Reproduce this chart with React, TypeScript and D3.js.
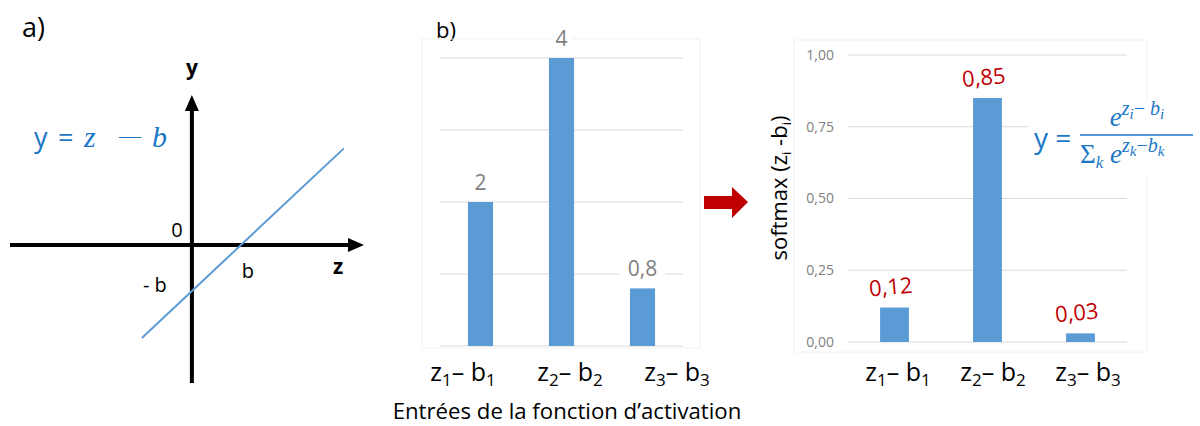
import * as d3 from 'd3';

// panel a: y = z - b
const bias = 1;
const lineZ = [-1.02, 3.1];

// panel b: inputs of the activation function
const inputCats = ['1', '2', '3'];
const inputValues = [2, 4, 0.8];
const inputTicks = [0, 1, 2, 3, 4];

// panel c: softmax outputs
const softmaxValues = [0.12, 0.85, 0.03];
const softmaxTicks = [0, 0.25, 0.5, 0.75, 1];

const SANS = '"Open Sans", Lato, sans-serif';
const MATH = '"Liberation Serif", "DejaVu Serif", serif';
const BAR = '#5b9bd5';
const GRID = '#d9d9d9';
const BLUE = '#1b78c6';
const RED = '#c00000';

const commaFmt = (f: string) => (v: number) => d3.format(f)(v).replace('.', ',');

const CatLabel = ({ x, y, i }: { x: number; y: number; i: string }) => (
  <text x={x} y={y} textAnchor="middle" fontFamily={SANS} fontSize={25} fill="#000">
    z<tspan fontSize={17} dy={5}>{i}</tspan>
    <tspan dy={-5}>{'\u2013 b'}</tspan>
    <tspan fontSize={17} dy={5}>{i}</tspan>
  </text>
);

export default function App() {
  // ---- panel a
  const zx = d3.scaleLinear().domain([-3.71, 3.51]).range([10, 364]);
  const ay = d3.scaleLinear().domain([-3.0, 3.26]).range([383, 95]);
  const ox = zx(0);
  const oy = ay(0);
  const line = d3
    .line<number>()
    .x(z => zx(z))
    .y(z => ay(z - bias));

  // ---- panel b
  const bx = d3.scaleBand<string>().domain(inputCats).range([440, 683]).paddingInner(0.69).paddingOuter(0.345);
  const by = d3.scaleLinear().domain([0, 4]).range([346, 58]);
  const bLab = d3.scalePoint<string>().domain(inputCats).range([463, 677]);

  // ---- panel c
  const cx = d3.scaleBand<string>().domain(inputCats).range([848, 1127]).paddingInner(0.69).paddingOuter(0.345);
  const cy = d3.scaleLinear().domain([0, 1]).range([342, 55]);
  const cLab = d3.scalePoint<string>().domain(inputCats).range([898, 1088]);
  const fmtTick = commaFmt('.2f');
  const fmtB = (v: number) => commaFmt('~g')(v);

  return (
    <div style={{ position: 'absolute', left: 0, top: 0 }}>
      <svg width={1200} height={426} style={{ display: 'block', background: '#fff' }}>
        {/* ===== panel a ===== */}
        <text x={22} y={37} fontFamily={SANS} fontSize={27} fill="#000">a)</text>
        <line x1={zx.range()[0]} x2={zx.range()[1] - 10} y1={oy} y2={oy} stroke="#000" strokeWidth={4} />
        <path d={`M${zx.range()[1]},${oy} l-16,-7 v14 z`} fill="#000" />
        <line x1={ox} x2={ox} y1={ay.range()[0]} y2={ay.range()[1] + 10} stroke="#000" strokeWidth={4} />
        <path d={`M${ox},${ay.range()[1]} l-7,16 h14 z`} fill="#000" />
        <path d={line(lineZ) ?? ''} fill="none" stroke={BAR} strokeWidth={2} />
        <text x={ox} y={75} textAnchor="middle" fontFamily={SANS} fontWeight="bold" fontSize={21}>y</text>
        <text x={338} y={274} textAnchor="middle" fontFamily={SANS} fontWeight="bold" fontSize={21}>z</text>
        <text x={ox - 15} y={oy - 8} textAnchor="middle" fontFamily={SANS} fontSize={20}>0</text>
        <text x={zx(bias) + 7} y={oy + 33} textAnchor="middle" fontFamily={SANS} fontSize={20}>b</text>
        <text x={ox - 37} y={ay(-bias) + 1} textAnchor="middle" fontFamily={SANS} fontSize={20}>- b</text>
        <text y={147} fill={BLUE} fontSize={28}>
          <tspan x={34} fontFamily={SANS} fontSize={27}>y</tspan>
          <tspan x={58} fontFamily={SANS} fontSize={27}>=</tspan>
          <tspan x={84} fontFamily={MATH} fontStyle="italic" fontSize={30}>z</tspan>
          <tspan x={119} fontFamily={MATH} fontSize={22} dy={-4}>{'\u2014'}</tspan>
          <tspan x={152} fontFamily={MATH} fontStyle="italic" fontSize={30} dy={4}>b</tspan>
        </text>

        {/* ===== panel b ===== */}
        <text x={436} y={38} fontFamily={SANS} fontSize={22}>b)</text>
        <rect x={422} y={39} width={278} height={309} fill="none" stroke="#f2f2f2" />
        {inputTicks.map(t => (
          <line key={t} x1={440} x2={683} y1={by(t)} y2={by(t)} stroke={GRID} strokeWidth={1} />
        ))}
        {inputValues.map((v, k) => (
          <rect key={k} x={bx(inputCats[k])} y={by(v)} width={bx.bandwidth()} height={by(0) - by(v)} fill={BAR} />
        ))}
        {inputValues.map((v, k) => {
          const x = (bx(inputCats[k]) ?? 0) + bx.bandwidth() / 2;
          const label = fmtB(v);
          const w = label.length * 12 + 10;
          return (
            <g key={k}>
              <rect x={x - w / 2} y={by(v) - 29} width={w} height={24} fill="#fff" />
              <text x={x} y={by(v) - 12} textAnchor="middle" fontFamily={SANS} fontSize={21} fill="#808080">
                {label}
              </text>
            </g>
          );
        })}
        {inputCats.map(c => (
          <CatLabel key={c} x={bLab(c) ?? 0} y={381} i={c} />
        ))}
        <text x={567} y={419} textAnchor="middle" fontFamily={SANS} fontSize={22.2}>
          {'Entrées de la fonction d\u2019activation'}
        </text>

        {/* red arrow */}
        <path d="M704,196 H732 V187 L748,202 L732,218 V209 H704 Z" fill={RED} />

        {/* ===== panel c ===== */}
        <rect x={794} y={40} width={353} height={312} fill="none" stroke="#f2f2f2" />
        {softmaxTicks.map(t => (
          <g key={t}>
            <line x1={848} x2={1127} y1={cy(t)} y2={cy(t)} stroke={GRID} strokeWidth={1} />
            <text x={834} y={cy(t)} dy="0.35em" textAnchor="end" fontFamily={SANS} fontSize={14} fill="#808080">
              {fmtTick(t)}
            </text>
          </g>
        ))}
        {/* white box behind the formula */}
        <rect x={1028} y={100} width={170} height={75} fill="#fff" />
        {softmaxValues.map((v, k) => (
          <rect key={k} x={cx(inputCats[k])} y={cy(v)} width={cx.bandwidth()} height={cy(0) - cy(v)} fill={BAR} />
        ))}
        {softmaxValues.map((v, k) => {
          const x = (cx(inputCats[k]) ?? 0) + cx.bandwidth() / 2 - 3;
          const y = cy(v) - 13;
          return (
            <g key={k} transform={`translate(${x},${y}) rotate(-5)`}>
              <rect x={-27} y={-20} width={54} height={26} fill="#fff" />
              <text x={0} y={0} textAnchor="middle" fontFamily={SANS} fontSize={22} fill={RED}>
                {fmtTick(v)}
              </text>
            </g>
          );
        })}
        {inputCats.map(c => (
          <CatLabel key={c} x={cLab(c) ?? 0} y={381} i={c} />
        ))}
        <text
          transform="translate(787,188) rotate(-90)"
          textAnchor="middle"
          fontFamily={SANS}
          fontSize={22}
          fill="#000"
        >
          softmax (z<tspan fontSize={13} dy={4}>i</tspan>
          <tspan dy={-4}> -b</tspan>
          <tspan fontSize={13} dy={4}>i</tspan>
          <tspan dy={-4}>)</tspan>
        </text>

        {/* formula */}
        <text x={1034} y={148} fontFamily={SANS} fontSize={28} fill={BLUE}>y =</text>
        <line x1={1080} x2={1193} y1={135} y2={135} stroke={BLUE} strokeWidth={1.6} />
        <text x={1137} y={126} textAnchor="middle" fontFamily={MATH} fontStyle="italic" fill={BLUE} fontSize={27}>
          e<tspan fontSize={20} dy={-11}>z</tspan>
          <tspan fontSize={15} dy={4}>i</tspan>
          <tspan fontSize={20} dy={-4} fontStyle="normal">{'\u2212 '}</tspan>
          <tspan fontSize={20}>b</tspan>
          <tspan fontSize={15} dy={4}>i</tspan>
        </text>
        <text x={1080} y={163} fontFamily={MATH} fill={BLUE} fontSize={27}>
          <tspan fontStyle="normal">{'\u03a3'}</tspan>
          <tspan fontSize={17} dy={5} fontStyle="italic">k</tspan>
          <tspan dy={-5} fontStyle="italic">{' e'}</tspan>
          <tspan fontSize={20} dy={-11} fontStyle="italic">z</tspan>
          <tspan fontSize={15} dy={4} fontStyle="italic">k</tspan>
          <tspan fontSize={20} dy={-4}>{'\u2212'}</tspan>
          <tspan fontSize={20} fontStyle="italic">b</tspan>
          <tspan fontSize={15} dy={4} fontStyle="italic">k</tspan>
        </text>
      </svg>
    </div>
  );
}
